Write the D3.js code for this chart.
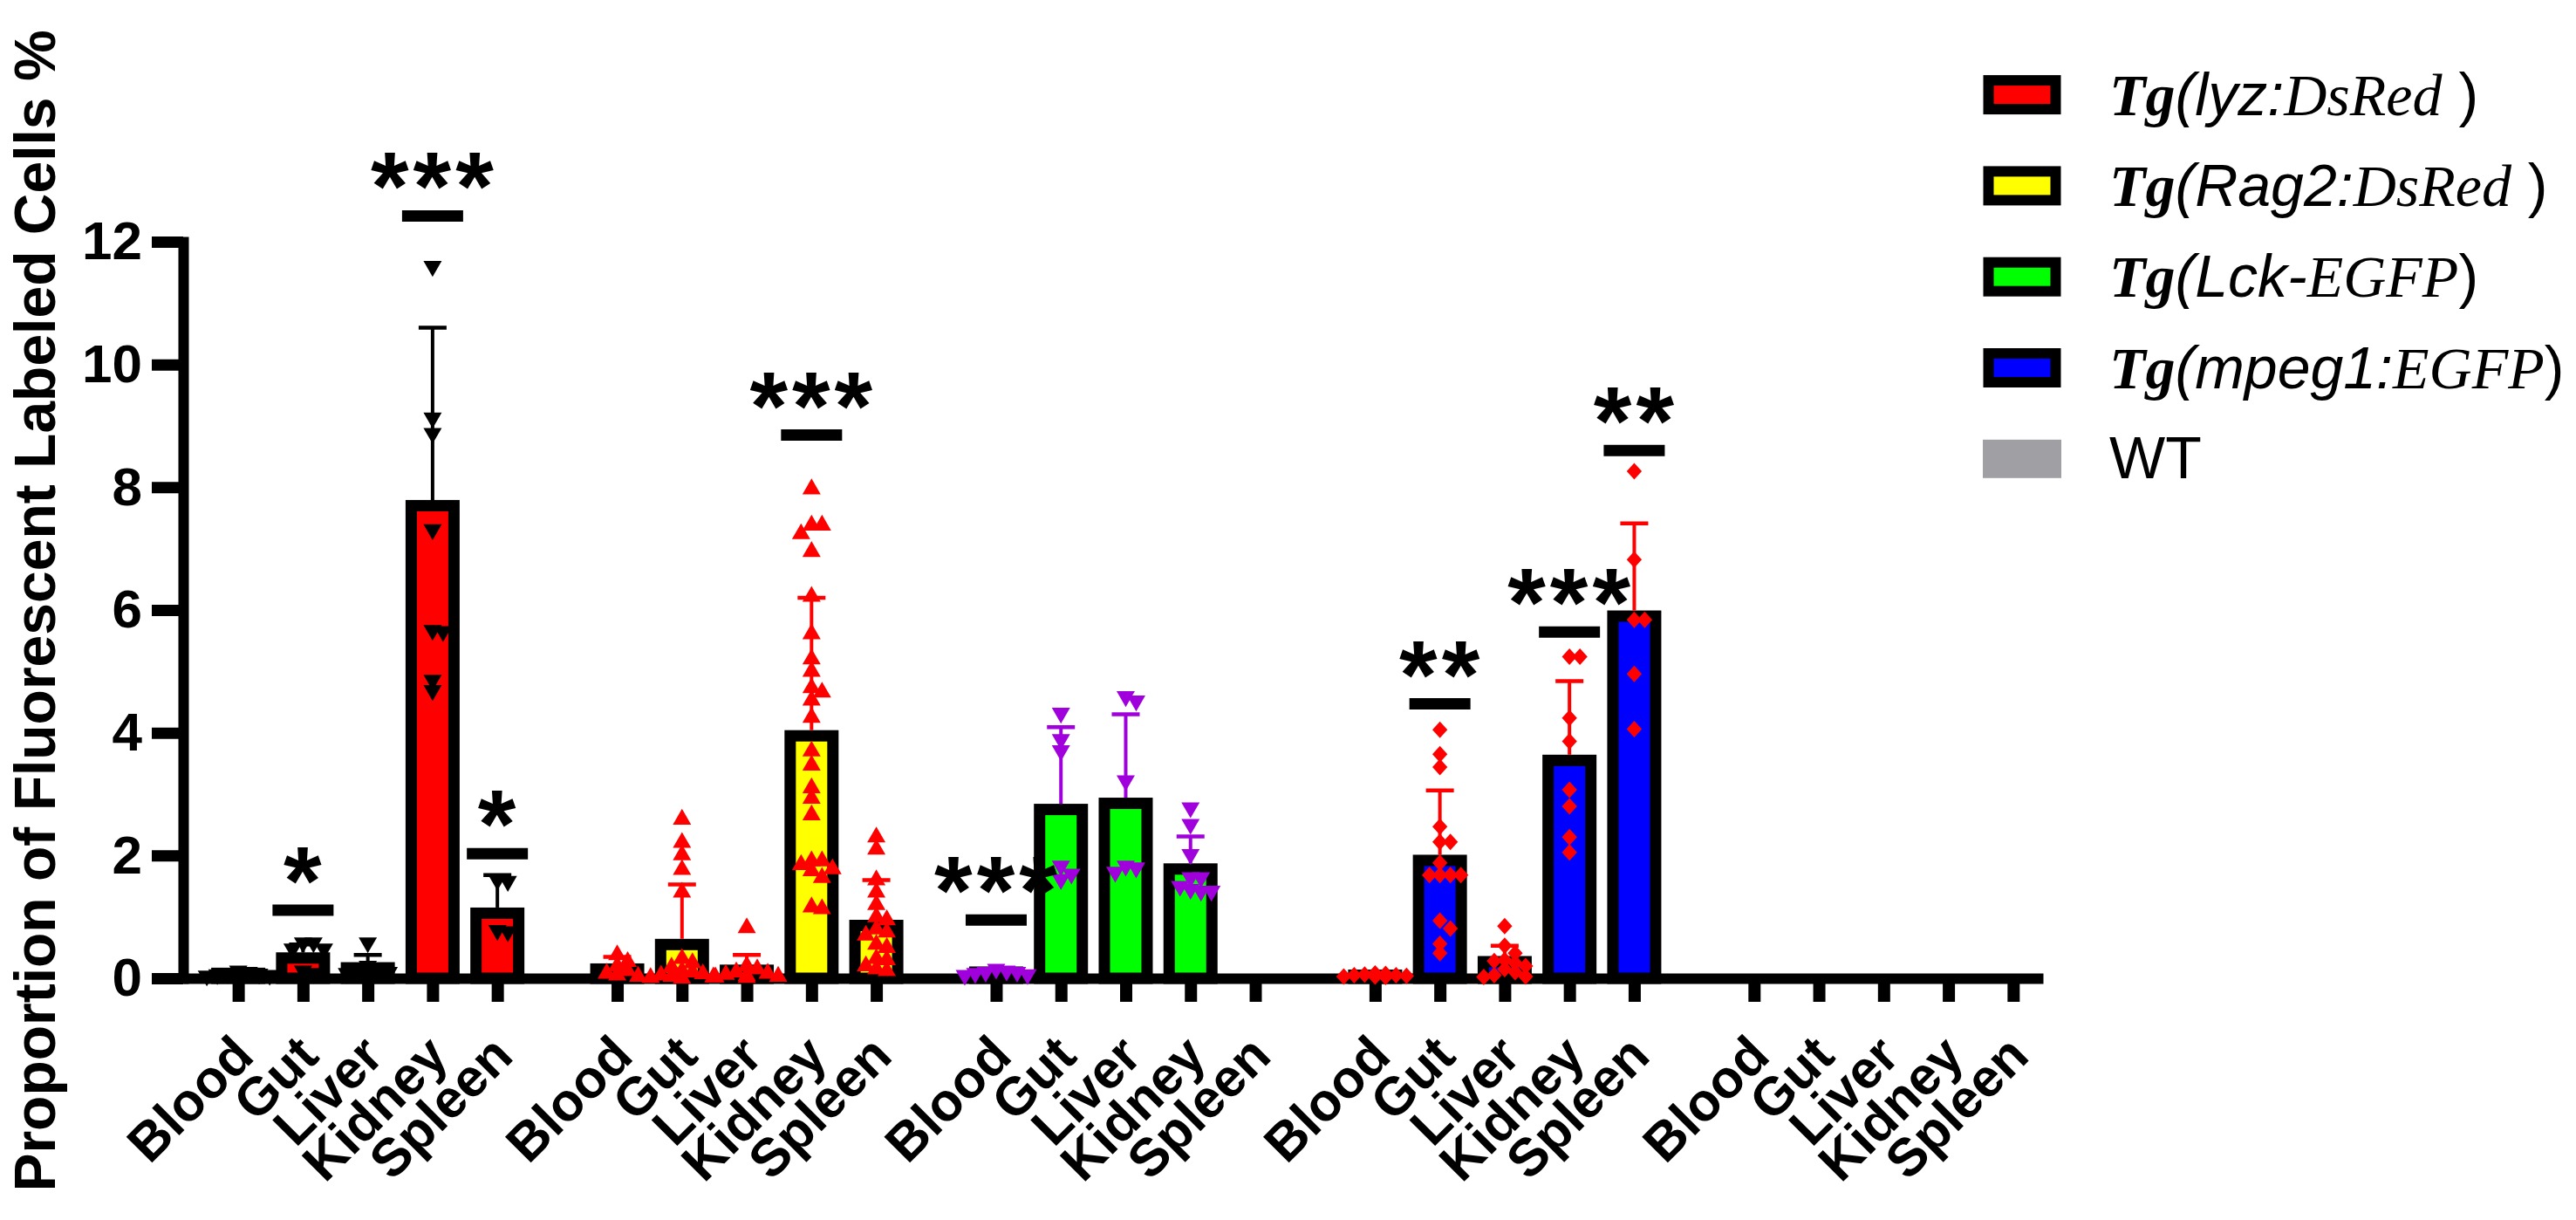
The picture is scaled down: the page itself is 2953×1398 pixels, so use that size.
<!DOCTYPE html>
<html>
<head>
<meta charset="utf-8">
<script src="https://cdn.jsdelivr.net/npm/d3@7"></script>
<style>
html, body { margin: 0; padding: 0; background: #fff; }
svg { display: block; }
</style>
</head>
<body>
<div id="chart"></div>
<script>
// tissues on the x axis, repeated for every strain
var tissues = ["Blood", "Gut", "Liver", "Kidney", "Spleen"];
var strains = ["lyz", "Rag2", "Lck", "mpeg1", "WT"];
var yTicks = [0, 2, 4, 6, 8, 10, 12];

// bar heights (mean) and upper SD, null = no bar
var lyzMean   = [0.08, 0.33, 0.17, 7.7, 1.06];
var lyzSD     = [0.03, 0.22, 0.21, 2.9, 0.62];
var rag2Mean  = [0.15, 0.55, 0.13, 3.95, 0.86];
var rag2SD    = [0.2, 0.98, 0.25, 2.25, 0.74];
var lckMean   = [0.1, 2.75, 2.85, 1.78, null];
var lckSD     = [0.03, 1.34, 1.45, 0.53, null];
var mpegMean  = [0.05, 1.92, 0.27, 3.55, 5.9];
var mpegSD    = [0.02, 1.14, 0.26, 1.29, 1.51];
var wtMean    = [null, null, null, null, null];
var wtSD      = [null, null, null, null, null];

// individual fish
var lyzPts = [
    [0.12, 0.1, 0.08, 0.07, 0.06, 0.05, 0.04],
    [0.58, 0.58, 0.48, 0.48, 0.12, 0.08],
    [0.58, 0.2, 0.15, 0.12, 0.1, 0.08, 0.05],
    [11.6, 9.13, 8.88, 7.31, 5.67, 5.65, 4.86, 4.69],
    [1.6, 1.58, 0.78, 0.76]
];
var rag2Pts = [
    [0.38, 0.27, 0.2, 0.12, 0.08, 0.05, 0.03],
    [2.59, 2.21, 2.01, 1.77, 1.4, 0.32, 0.25, 0.18, 0.12, 0.1, 0.07, 0.05, 0.03, 0.02, 0.01, 0.0],
    [0.82, 0.2, 0.15, 0.1, 0.08, 0.06, 0.04, 0.03, 0.02, 0.01],
    [7.97, 7.38, 7.38, 7.24, 6.95, 6.22, 5.61, 5.2, 5.0, 4.73, 4.66, 4.53, 4.25, 3.7, 3.47, 3.1, 2.93, 2.66, 1.91, 1.91, 1.85, 1.78, 1.75, 1.64, 1.16, 1.13],
    [2.3, 2.1, 1.6, 1.4, 1.2, 1.0, 0.95, 0.8, 0.75, 0.7, 0.55, 0.5, 0.32, 0.3, 0.2, 0.15, 0.12]
];
var lckPts = [
    [0.15, 0.12, 0.1, 0.1, 0.08, 0.06, 0.05],
    [4.32, 3.89, 3.71, 1.83, 1.7, 1.61],
    [4.59, 4.52, 3.22, 1.83, 1.8, 1.73],
    [2.78, 2.51, 2.02, 1.64, 1.64, 1.5, 1.45, 1.42, 1.42],
    []
];
var mpegPts = [
    [0.08, 0.07, 0.06, 0.05, 0.05, 0.04, 0.03, 0.03, 0.02],
    [4.05, 3.65, 3.44, 2.47, 2.22, 2.22, 1.88, 1.68, 1.68, 1.68, 1.68, 0.94, 0.81, 0.56, 0.41],
    [0.85, 0.53, 0.41, 0.3, 0.28, 0.25, 0.2, 0.15, 0.1, 0.05, 0.03, 0.02],
    [5.24, 5.24, 4.24, 3.86, 3.07, 2.8, 2.3, 2.05],
    [8.26, 6.82, 5.84, 5.84, 4.96, 4.06]
];
var wtPts = [[], [], [], [], []];

// significance marks: strain index, tissue index, stars, bar level
var sigStrain = [0, 0, 0, 1, 2, 3, 3, 3];
var sigTissue = [1, 3, 4, 3, 0, 1, 3, 4];
var sigLabel  = ["*", "***", "*", "***", "***", "**", "***", "**"];
var sigLevel  = [1.11, 12.42, 2.03, 8.85, 0.95, 4.47, 5.64, 8.6];

// legend
var legendGene     = ["lyz", "Rag2", "Lck", "mpeg1"];
var legendSep      = [":", ":", "-", ":"];
var legendReporter = ["DsRed", "DsRed", "EGFP", "EGFP"];
var legendClose    = [" )", " )", ")", ")"];
var wtLabel = "WT";

var barColors   = ["#ff0000", "#ffff00", "#00ff00", "#0000ff", "#a0a0a4"];
var pointColors = ["#000000", "#ff0000", "#a000dc", "#ff0000", "#000000"];
var pointShape  = ["down", "up", "down", "diamond", "down"];

var means = [lyzMean, rag2Mean, lckMean, mpegMean, wtMean];
var sds   = [lyzSD, rag2SD, lckSD, mpegSD, wtSD];
var pts   = [lyzPts, rag2Pts, lckPts, mpegPts, wtPts];

var W = 2953, H = 1398;
var sans = "'Liberation Sans', Arial, sans-serif";
var serif = "'Liberation Serif', 'Times New Roman', serif";

var svg = d3.select("#chart").append("svg")
    .attr("width", W)
    .attr("height", H)
    .style("font-family", sans);

var y = d3.scaleLinear().domain([0, 12]).range([1121, 277]);

// slot position: one slot per tissue plus a gap between strains
var gapSlots = 0.85;
function slot(g, t) { return g * tissues.length + t + g * gapSlots; }
var x = d3.scaleLinear().domain([-0.85, 27.86]).range([210, 2342]);

var slots = [], slotLabels = [];
strains.forEach(function(s, g) {
    tissues.forEach(function(t, i) { slots.push(slot(g, i)); slotLabels.push(t); });
});

// y axis
var yAxis = svg.append("g")
    .attr("transform", "translate(210,0)")
    .call(d3.axisLeft(y).tickValues(yTicks).tickSize(36).tickSizeOuter(0).tickPadding(11));
yAxis.select(".domain").attr("stroke", "#000").attr("stroke-width", 12).attr("stroke-linecap", "square");
yAxis.selectAll(".tick line").attr("stroke", "#000").attr("stroke-width", 13);
yAxis.selectAll(".tick text")
    .attr("fill", "#000")
    .style("font-family", sans)
    .style("font-weight", "bold")
    .style("font-size", "62px");

// x axis
var xAxis = svg.append("g")
    .attr("transform", "translate(0," + y(0) + ")")
    .call(d3.axisBottom(x).tickValues(slots).tickSize(27).tickSizeOuter(0)
        .tickFormat(function(d, i) { return slotLabels[i]; }));
xAxis.select(".domain").attr("stroke", "#000").attr("stroke-width", 12);
xAxis.selectAll(".tick line").attr("stroke", "#000").attr("stroke-width", 14);
xAxis.selectAll(".tick text")
    .attr("fill", "#000")
    .attr("y", 0)
    .attr("dy", 0)
    .attr("text-anchor", "end")
    .attr("transform", "translate(20,92) rotate(-45)")
    .style("font-family", sans)
    .style("font-weight", "bold")
    .style("font-size", "61px");

// y title
svg.append("text")
    .attr("transform", "translate(63,700) rotate(-90)")
    .attr("text-anchor", "middle")
    .style("font-weight", "bold")
    .style("font-size", "66px")
    .text("Proportion of Fluorescent Labeled Cells %");

var barW = 49, barStroke = 13, capW = 32;

// bars
strains.forEach(function(s, g) {
    tissues.forEach(function(t, i) {
        var m = means[g][i];
        if (m == null) return;
        var cx = x(slot(g, i));
        svg.append("rect")
            .attr("x", cx - barW / 2)
            .attr("y", y(m))
            .attr("width", barW)
            .attr("height", y(0) - y(m))
            .attr("fill", barColors[g])
            .attr("stroke", "#000")
            .attr("stroke-width", barStroke);
    });
});

// error bars (mean + SD)
strains.forEach(function(s, g) {
    tissues.forEach(function(t, i) {
        var m = means[g][i], sd = sds[g][i];
        if (m == null) return;
        var cx = x(slot(g, i));
        var top = y(m + sd), base = y(m) - barStroke / 2;
        if (top >= base) return;
        svg.append("line")
            .attr("x1", cx).attr("x2", cx)
            .attr("y1", base).attr("y2", top)
            .attr("stroke", pointColors[g])
            .attr("stroke-width", 4);
        svg.append("line")
            .attr("x1", cx - capW / 2).attr("x2", cx + capW / 2)
            .attr("y1", top).attr("y2", top)
            .attr("stroke", pointColors[g])
            .attr("stroke-width", 4.5);
    });
});

// simple dodge so that points at the same height spread sideways
function layoutPoints(vals, cx) {
    var placed = [];
    var offsets = [0, 12, -12, 24, -24, 36, -36];
    vals.slice().sort(function(a, b) { return b - a; }).forEach(function(v) {
        var py = y(v), best = 0, bestHits = Infinity;
        for (var k = 0; k < offsets.length; k++) {
            var hits = placed.filter(function(p) {
                return Math.abs(p.y - py) < 10 && Math.abs(p.dx - offsets[k]) < 10;
            }).length;
            if (hits < bestHits) { bestHits = hits; best = offsets[k]; }
            if (hits === 0) break;
        }
        placed.push({ y: py, dx: best });
    });
    return placed.map(function(p) { return { x: cx + p.dx, y: p.y }; });
}

var diamond = {
    draw: function(context, size) {
        var w = Math.sqrt(size / 1.1) / 2 * 1.41, h = w * 1.1;
        context.moveTo(0, -h);
        context.lineTo(w, 0);
        context.lineTo(0, h);
        context.lineTo(-w, 0);
        context.closePath();
    }
};

strains.forEach(function(s, g) {
    var shape = pointShape[g];
    var sym = shape === "diamond"
        ? d3.symbol().type(diamond).size(165)
        : d3.symbol().type(d3.symbolTriangle).size(190);
    tissues.forEach(function(t, i) {
        var cx = x(slot(g, i));
        svg.append("g").selectAll("path")
            .data(layoutPoints(pts[g][i], cx))
            .enter().append("path")
            .attr("d", sym)
            .attr("fill", pointColors[g])
            .attr("transform", function(d) {
                return "translate(" + d.x + "," + d.y + ")" + (shape === "down" ? " rotate(180)" : "");
            });
    });
});

// significance bars and stars
sigLabel.forEach(function(lab, k) {
    var cx = x(slot(sigStrain[k], sigTissue[k]));
    var ly = y(sigLevel[k]);
    svg.append("line")
        .attr("x1", cx - 35).attr("x2", cx + 35)
        .attr("y1", ly).attr("y2", ly)
        .attr("stroke", "#000")
        .attr("stroke-width", 13);
    svg.append("text")
        .attr("x", cx + 2)
        .attr("y", ly - 57 + 62)
        .attr("text-anchor", "middle")
        .style("font-weight", "bold")
        .style("font-size", "112px")
        .style("letter-spacing", "5px")
        .text(lab);
});

// legend
var legY = d3.scaleLinear().domain([0, 4]).range([108.6, 525.8]);
legendGene.forEach(function(gene, i) {
    var cy = legY(i);
    svg.append("rect")
        .attr("x", 2279.5).attr("y", cy - 16.5)
        .attr("width", 77).attr("height", 33)
        .attr("fill", barColors[i])
        .attr("stroke", "#000")
        .attr("stroke-width", 12);
    var txt = svg.append("text")
        .attr("x", 2418).attr("y", cy + 23)
        .style("font-size", "68px");
    txt.append("tspan").style("font-family", serif).style("font-weight", "bold").style("font-style", "italic").text("Tg");
    txt.append("tspan").style("font-family", sans).style("font-style", "italic").text("(" + gene + legendSep[i]);
    txt.append("tspan").style("font-family", serif).style("font-style", "italic").text(legendReporter[i]);
    txt.append("tspan").style("font-family", sans).attr("xml:space", "preserve").text(legendClose[i]);
});
svg.append("rect")
    .attr("x", 2273).attr("y", legY(4) - 22)
    .attr("width", 90).attr("height", 44)
    .attr("fill", barColors[4]);
svg.append("text")
    .attr("x", 2418).attr("y", legY(4) + 22)
    .style("font-size", "68px")
    .text(wtLabel);
</script>
</body>
</html>
